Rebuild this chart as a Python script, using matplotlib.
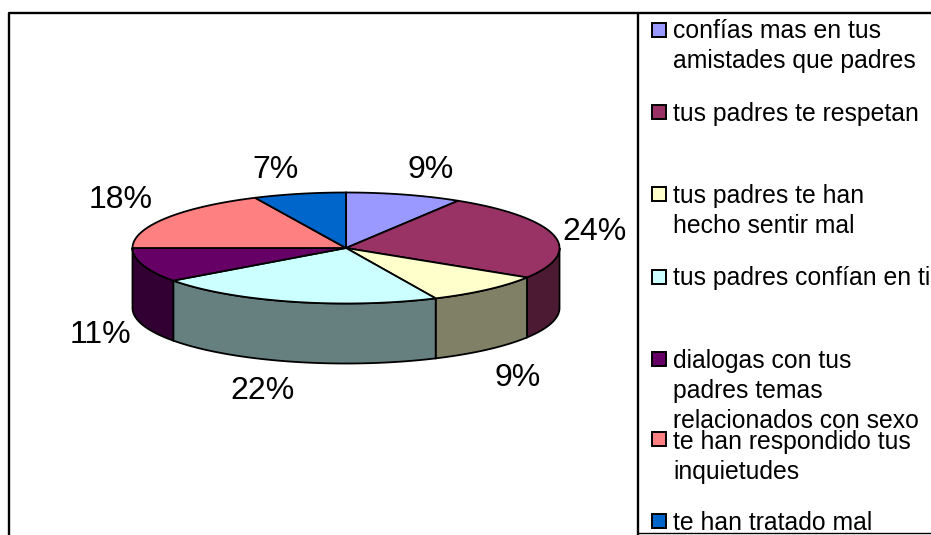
import matplotlib
matplotlib.use('Agg')
import matplotlib.pyplot as plt
import numpy as np
from matplotlib.patches import Polygon, Rectangle

# Slices, clockwise from 12 o'clock
legend_labels = [
    'confías mas en tus\namistades que padres',
    'tus padres te respetan',
    'tus padres te han\nhecho sentir mal',
    'tus padres confían en ti',
    'dialogas con tus\npadres temas\nrelacionados con sexo',
    'te han respondido tus\ninquietudes',
    'te han tratado mal',
]
pct_labels = ['9%', '24%', '9%', '22%', '11%', '18%', '7%']
# shares as drawn (differs a bit from the printed %)
drawn_shares = [8.8, 25.1, 9.2, 21.9, 10.0, 18.0, 7.0]
top_colors = ['#9999FF', '#993366', '#FFFFCC', '#CCFFFF', '#660066', '#FF8080', '#0066CC']
side_colors = ['#4D4D80', '#4D1A33', '#808066', '#668080', '#330033', '#804040', '#003366']

pct_xy = [(431, 170), (594, 232), (518, 378), (263, 391), (100, 335), (121, 200), (276, 170)]
legend_text_y = [46, 114, 211, 278, 391, 457, 523]
legend_box_y = [29.5, 112, 194, 277, 359, 439, 521]

W, H = 931, 535
cx, cy, rx, ry, depth = 346, 248, 213.5, 55.5, 60

fig = plt.figure(figsize=(W / 100, H / 100), dpi=100)
ax = fig.add_axes([0, 0, 1, 1])
ax.set_xlim(0, W)
ax.set_ylim(H, 0)
ax.axis('off')
plt.rcParams['font.family'] = ['Liberation Sans', 'DejaVu Sans']

# frame and legend divider
ax.plot([8.5, 8.5, W + 5], [H + 5, 12.5, 12.5], color='black', lw=1.7, solid_capstyle='butt', zorder=5)
ax.plot([638, 638], [12.5, H + 5], color='black', lw=1.7, solid_capstyle='butt', zorder=5)
ax.plot([638, W + 5], [533, 533], color='black', lw=1, solid_capstyle='butt', zorder=5)


def ellipse_pts(t0, t1, dy=0):
    t = np.linspace(t0, t1, 80)
    return np.column_stack([cx + rx * np.sin(t), cy + dy - ry * np.cos(t)])


edges = np.radians(np.concatenate([[0], np.cumsum(drawn_shares)]) * 3.6)

# side walls, only the part facing the viewer (90 to 270 deg)
for i in range(len(drawn_shares)):
    t0 = max(edges[i], np.pi / 2)
    t1 = min(edges[i + 1], 3 * np.pi / 2)
    if t1 <= t0:
        continue
    pts = np.vstack([ellipse_pts(t0, t1), ellipse_pts(t0, t1, depth)[::-1]])
    ax.add_patch(Polygon(pts, closed=True, fc=side_colors[i], ec='black', lw=1.3, zorder=2))

# top face
for i in range(len(drawn_shares)):
    pts = np.vstack([[cx, cy], ellipse_pts(edges[i], edges[i + 1])])
    ax.add_patch(Polygon(pts, closed=True, fc=top_colors[i], ec='black', lw=1.3, zorder=3))

for txt, (x, y) in zip(pct_labels, pct_xy):
    ax.text(x, y, txt, fontsize=23, ha='center', va='center', color='black')

# legend
for i, lab in enumerate(legend_labels):
    ax.add_patch(Rectangle((651.5, legend_box_y[i] - 7), 14, 14, fc=top_colors[i], ec='black', lw=1.4, zorder=4))
    ax.text(673, legend_text_y[i], lab, fontsize=17.8, ha='left', va='center',
            color='black', linespacing=1.3)

fig.savefig('out.png', dpi=100)
